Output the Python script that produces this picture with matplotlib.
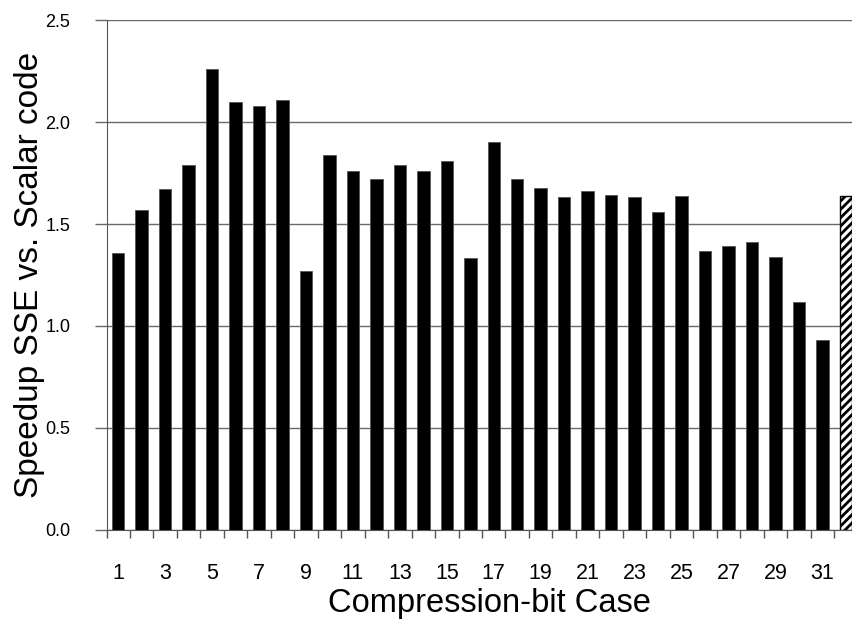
import numpy as np
import matplotlib.pyplot as plt

plt.rcParams['font.family'] = ['Liberation Sans', 'DejaVu Sans']

cases = list(range(1, 33))
speedup = [1.36, 1.57, 1.67, 1.79, 2.26, 2.10, 2.08, 2.11,
           1.27, 1.84, 1.76, 1.72, 1.79, 1.76, 1.81, 1.335,
           1.90, 1.72, 1.675, 1.63, 1.66, 1.64, 1.63, 1.56,
           1.635, 1.37, 1.39, 1.41, 1.34, 1.12, 0.93, 1.635]
tick_labels = [str(c) for c in cases[::2]]

fig = plt.figure(figsize=(8.52, 6.26), dpi=100)
ax = fig.add_axes([0.125, 0.1534, 0.8815, 0.8146])

x = np.array(cases)
ax.bar(x[:-1], speedup[:-1], width=0.53, color='black',
       edgecolor='#555555', linewidth=0.6, zorder=3)
# last case drawn hatched
plt.rcParams['hatch.linewidth'] = 2.0
ax.bar(x[-1], speedup[-1], width=0.53, color='white', edgecolor='black',
       hatch='////', linewidth=1.0, zorder=3)

ax.set_xlim(0.5, 32.5)
ax.set_ylim(0, 2.5)
yt = np.arange(0, 2.51, 0.5)
ax.set_yticks(yt)
ax.set_yticklabels([f"{v:.1f}" for v in yt])
ax.yaxis.grid(True, color='#6a6a6a', linewidth=1.0, zorder=0)

ax.set_xticks(cases[::2])
ax.set_xticklabels(tick_labels)
ax.set_xticks(np.arange(0.5, 32.5, 1.0), minor=True)
ax.tick_params(axis='x', which='major', length=0, pad=24, labelsize=15.5)
ax.tick_params(axis='x', which='minor', length=6, width=1, color='#555555',
               direction='out')
ax.tick_params(axis='y', length=9, width=1, color='#6a6a6a', pad=17,
               labelsize=13)

for s in ['top', 'right']:
    ax.spines[s].set_visible(False)
ax.spines['left'].set_color('#555555')
ax.spines['bottom'].set_color('#555555')

ax.set_xlabel("Compression-bit Case", fontsize=23.5, labelpad=3)
ax.xaxis.label.set_x(0.51)
ax.set_ylabel("Speedup SSE vs. Scalar code", fontsize=24, labelpad=0.5)

fig.savefig("out.png", dpi=100)
